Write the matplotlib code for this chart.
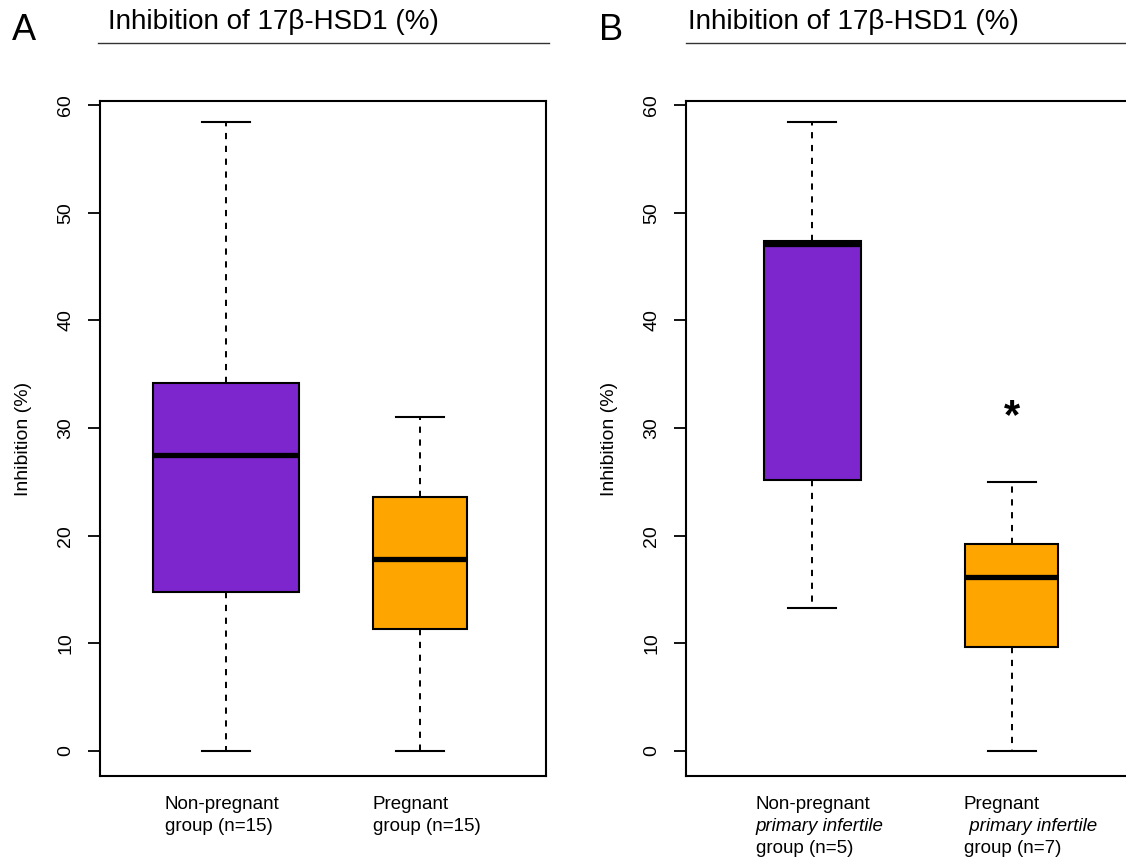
import matplotlib
matplotlib.use("Agg")
import matplotlib.pyplot as plt
from matplotlib.transforms import blended_transform_factory

plt.rcParams['font.family'] = ['Liberation Sans', 'DejaVu Sans']

# ---- data ----
title = "Inhibition of 17\u03b2-HSD1 (%)"
ylabel = "Inhibition (%)"
yticks = [0, 10, 20, 30, 40, 50, 60]

# Panel A: [whisker_low, Q1, median, Q3, whisker_high]
a_stats = [
    [0.0, 14.8, 27.5, 34.2, 58.4],   # Non-pregnant
    [0.0, 11.3, 17.8, 23.6, 31.0],   # Pregnant
]
a_labels = [["Non-pregnant", "group (n=15)"],
            ["Pregnant", "group (n=15)"]]

# Panel B
b_stats = [
    [13.3, 25.2, 47.1, 47.4, 58.4],  # Non-pregnant primary infertile
    [0.0, 9.7, 16.2, 19.2, 25.0],    # Pregnant primary infertile
]
b_labels = [["Non-pregnant", "primary infertile", "group (n=5)"],
            ["Pregnant", " primary infertile", "group (n=7)"]]
b_star_y = 31.0

colors = ["#7D26CD", "#FFA500"]

W, H = 1126, 858
fig = plt.figure(figsize=(W / 100, H / 100), dpi=100)

def px_axes(left, top, right, bottom):
    return fig.add_axes([left / W, 1 - bottom / H, (right - left) / W, (bottom - top) / H])

def draw_panel(ax, stats, positions, widths, labels, label_x):
    bxp = []
    for s in stats:
        bxp.append(dict(whislo=s[0], q1=s[1], med=s[2], q3=s[3], whishi=s[4], fliers=[]))
    res = ax.bxp(bxp, positions=positions, widths=widths, capwidths=[0.25] * len(stats),
                 patch_artist=True, showfliers=False, manage_ticks=False,
                 boxprops=dict(linewidth=1.5, edgecolor='black'),
                 medianprops=dict(color='black', linewidth=3.8, solid_capstyle='butt'),
                 whiskerprops=dict(color='black', linewidth=1.4, linestyle=(0, (3.2, 3.4))),
                 capprops=dict(color='black', linewidth=1.5))
    for patch, c in zip(res['boxes'], colors):
        patch.set_facecolor(c)
    ax.set_xlim(0.35, 2.65)
    ax.set_ylim(-2.32, 60.37)
    ax.set_xticks([])
    ax.set_yticks(yticks)
    ax.set_yticklabels([str(t) for t in yticks], rotation=90, va='center', fontsize=14)
    ax.tick_params(axis='y', length=8.5, width=1.3, pad=10)
    for sp in ax.spines.values():
        sp.set_linewidth(1.5)
    ax.set_ylabel(ylabel, fontsize=14, labelpad=18)
    trans = blended_transform_factory(ax.transData, fig.transFigure)
    baselines = [809, 831, 853]
    for lx, lines in zip(label_x, labels):
        for i, line in enumerate(lines):
            style = 'italic' if 'primary' in line else 'normal'
            ax.text(lx, 1 - baselines[i] / H, line, transform=trans, ha='left',
                    va='baseline', fontsize=13.5, style=style, clip_on=False)

# Panel A
axA = px_axes(100, 101, 546, 776)
draw_panel(axA, a_stats, [1.0, 2.0], [0.75, 0.485], a_labels, [0.685, 1.757])

# Panel B (right edge cropped by figure)
axB = px_axes(686, 101, 1132, 776)
draw_panel(axB, b_stats, [1.0, 2.03], [0.5, 0.48], b_labels, [0.71, 1.782])
axB.text(2.03, b_star_y, "*", ha='center', va='center', fontsize=30, fontweight='bold')

# Titles, underlines and panel letters
for letter, lx, tx, x0, x1 in [("A", 12, 108, 98, 549), ("B", 599, 688, 686, 1126)]:
    fig.text(lx / W, 1 - 40 / H, letter, fontsize=26, ha='left', va='baseline')
    fig.text(tx / W, 1 - 22 / H, title, fontsize=20, ha='left', va='center')
    fig.add_artist(plt.Line2D([x0 / W, x1 / W], [1 - 43 / H, 1 - 43 / H],
                              transform=fig.transFigure, color='#333333', linewidth=1.0))

fig.savefig("out.png", dpi=100)
